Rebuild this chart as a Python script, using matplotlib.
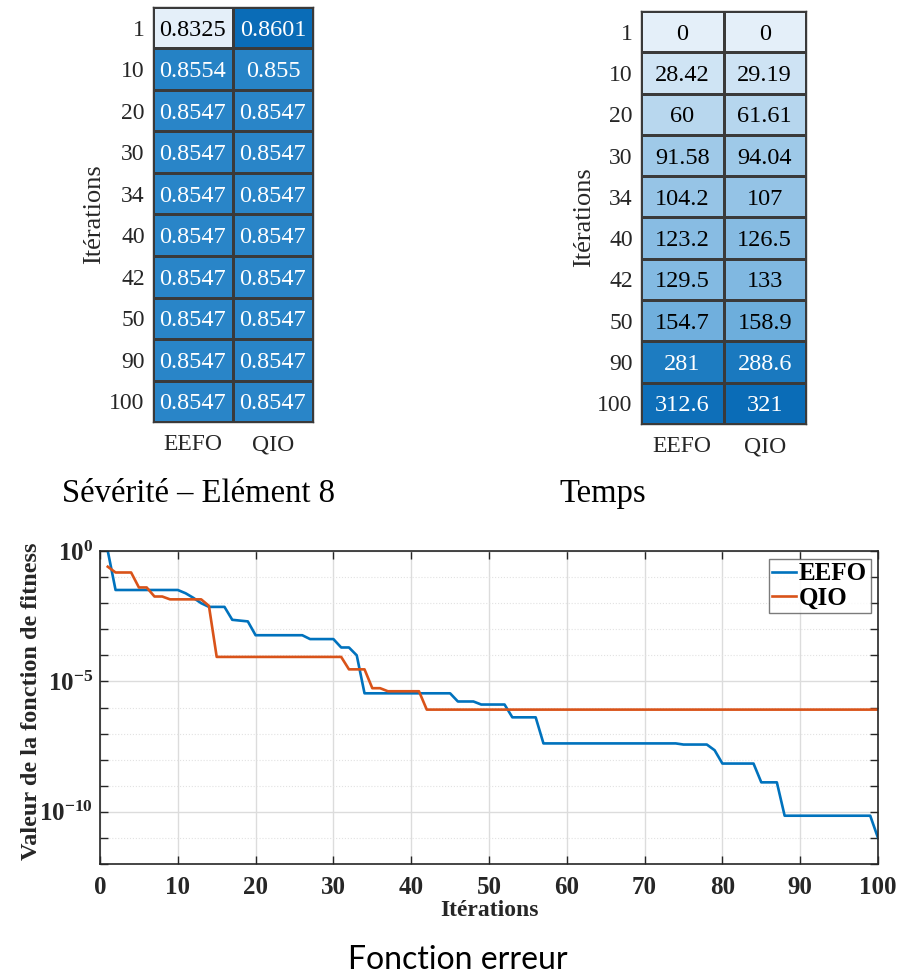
import numpy as np
import matplotlib
matplotlib.use("Agg")
import matplotlib.pyplot as plt
from matplotlib.colors import LinearSegmentedColormap
from matplotlib.ticker import NullFormatter, FixedLocator, FuncFormatter

# ---- Heatmap data -------------------------------------------------------
iterations = ["1", "10", "20", "30", "34", "40", "42", "50", "90", "100"]
algorithms = ["EEFO", "QIO"]

severity_eefo = [0.8325, 0.8554, 0.8547, 0.8547, 0.8547, 0.8547, 0.8547, 0.8547, 0.8547, 0.8547]
severity_qio = [0.8601, 0.855, 0.8547, 0.8547, 0.8547, 0.8547, 0.8547, 0.8547, 0.8547, 0.8547]

time_eefo = [0, 28.42, 60, 91.58, 104.2, 123.2, 129.5, 154.7, 281, 312.6]
time_qio = [0, 29.19, 61.61, 94.04, 107, 126.5, 133, 158.9, 288.6, 321]

# ---- Convergence curves (vertices of the best-so-far fitness) -------------
eefo_iter = [1, 2, 10, 11, 12, 13, 14, 16, 17, 19, 20, 26, 27, 30, 31, 32, 33, 34,
             45, 46, 48, 49, 52, 53, 56, 57, 74, 75, 78, 79, 80, 84, 85, 87, 88, 99, 100]
eefo_fit = [1.0, 3.2e-2, 3.2e-2, 2.4e-2, 1.6e-2, 1.0e-2, 7.2e-3, 7.2e-3, 2.3e-3, 2.0e-3,
            5.9e-4, 5.9e-4, 4.2e-4, 4.2e-4, 2.0e-4, 2.0e-4, 1.0e-4, 3.5e-6,
            3.5e-6, 1.7e-6, 1.7e-6, 1.3e-6, 1.3e-6, 4.2e-7, 4.2e-7, 4.2e-8, 4.2e-8,
            3.8e-8, 3.8e-8, 2.3e-8, 7.1e-9, 7.1e-9, 1.35e-9, 1.35e-9, 7.1e-11, 7.1e-11, 1.0e-11]

qio_iter = [1, 2, 4, 5, 6, 7, 8, 9, 13, 14, 15, 31, 32, 34, 35, 36, 37, 41, 42, 100]
qio_fit = [0.25, 0.15, 0.15, 4.0e-2, 4.0e-2, 1.8e-2, 1.8e-2, 1.4e-2, 1.4e-2, 7.9e-3,
           8.7e-5, 8.7e-5, 2.9e-5, 2.9e-5, 5.5e-6, 5.5e-6, 4.2e-6, 4.2e-6, 8.3e-7, 8.3e-7]

plt.rcParams["mathtext.fontset"] = "custom"
plt.rcParams["mathtext.rm"] = "Liberation Serif"
plt.rcParams["mathtext.bf"] = "Liberation Serif:bold"

W, H = 917, 977
fig = plt.figure(figsize=(W / 100, H / 100), dpi=100)
fig.patch.set_facecolor("white")

serif = ["Liberation Serif", "DejaVu Serif"]
blues = LinearSegmentedColormap.from_list(
    "hm_blues",
    [(0.0, "#e4eff9"), (0.5, "#6cadDC"), (0.8, "#2a86c8"), (1.0, "#0a6cb7")])


def px_axes(x0, y0, x1, y1):
    return fig.add_axes([x0 / W, 1 - y1 / H, (x1 - x0) / W, (y1 - y0) / H])


def heatmap(ax, col_a, col_b, label_x):
    data = np.column_stack([col_a, col_b])
    vmin, vmax = data.min(), data.max()
    ax.pcolormesh(data, cmap=blues, vmin=vmin, vmax=vmax,
                  edgecolors="#3a3a3a", linewidth=1.0)
    ax.set_xlim(0, 2)
    ax.set_ylim(len(iterations), 0)
    for r in range(data.shape[0]):
        for c in range(data.shape[1]):
            v = data[r, c]
            rgba = blues((v - vmin) / (vmax - vmin))
            lum = 0.299 * rgba[0] + 0.587 * rgba[1] + 0.114 * rgba[2]
            ax.text(c + 0.5, r + 0.5, f"{v:.4g}", ha="center", va="center_baseline",
                    fontsize=17.5, family=serif,
                    color="white" if lum < 0.55 else "black")
    ax.set_xticks([0.5, 1.5])
    ax.set_xticklabels(algorithms, fontsize=17, family=serif, color="#262626")
    ax.set_yticks(np.arange(len(iterations)) + 0.5)
    ax.set_yticklabels(iterations, fontsize=17, family=serif, color="#262626")
    ax.tick_params(length=0, pad=6)
    ax.tick_params(axis="x", pad=9)
    for s in ax.spines.values():
        s.set_color("#3a3a3a")
        s.set_linewidth(1.0)
    ax.set_ylabel("Itérations", fontsize=19, family=serif, color="#262626")
    ax.yaxis.set_label_coords(label_x, 0.5)


ax1 = px_axes(153, 7, 313, 422)
heatmap(ax1, severity_eefo, severity_qio, -0.30)
ax2 = px_axes(641, 11, 806, 424)
heatmap(ax2, time_eefo, time_qio, -0.28)

fig.text(199 / W, 1 - 494 / H, "Sévérité – Elément 8", ha="center", va="center",
         fontsize=23.5, family=serif)
fig.text(603 / W, 1 - 494 / H, "Temps", ha="center", va="center",
         fontsize=23.5, family=serif)

# ---- Convergence plot ----------------------------------------------------
ax3 = px_axes(100, 551, 878, 864)
ax3.semilogy(eefo_iter, eefo_fit, color="#0072BD", lw=1.9, label="EEFO")
ax3.semilogy(qio_iter, qio_fit, color="#D95319", lw=1.9, label="QIO")
ax3.set_xlim(0, 100)
ax3.set_ylim(1e-12, 1e0)
ax3.set_xticks(np.arange(0, 101, 10))
ax3.yaxis.set_major_locator(FixedLocator([1e-10, 1e-5, 1e0]))
ax3.yaxis.set_major_formatter(FuncFormatter(
    lambda v, pos: r"$\mathbf{10^{%d}}$" % int(round(np.log10(v)))))
ax3.yaxis.set_minor_locator(FixedLocator([10.0 ** k for k in range(-12, 1)
                                          if k not in (-10, -5, 0)]))
ax3.yaxis.set_minor_formatter(NullFormatter())
ax3.grid(True, which="major", color="#dcdcdc", lw=1.0)
ax3.grid(True, which="minor", axis="y", color="#e2e2e2", lw=0.8, ls=":")
ax3.set_axisbelow(True)
ax3.tick_params(which="both", direction="in", top=True, right=True,
                length=6, width=1.0, colors="#262626")
for lab in ax3.get_xticklabels() + ax3.get_yticklabels():
    lab.set_fontfamily(serif)
    lab.set_fontweight("bold")
    lab.set_fontsize(18)
ax3.tick_params(axis="x", pad=9)
ax3.tick_params(axis="y", pad=5)
for s in ax3.spines.values():
    s.set_color("#262626")
    s.set_linewidth(1.2)
ax3.set_xlabel("Itérations", fontsize=17, fontweight="bold", family=serif,
               color="#262626", labelpad=0)
ax3.set_ylabel("Valeur de la fonction de fitness", fontsize=17.5, fontweight="bold",
               family=serif, color="#262626")
ax3.yaxis.set_label_coords(-0.075, 0.52)
leg = ax3.legend(loc="upper right", prop={"family": serif, "weight": "bold", "size": 18},
                 frameon=True, fancybox=False, handlelength=0.95, handletextpad=0.1,
                 borderpad=0.15, labelspacing=0.05, borderaxespad=0.3)
leg.get_frame().set_edgecolor("#5a5a5a")
leg.get_frame().set_linewidth(1.0)

fig.text(458 / W, 1 - 960 / H, "Fonction erreur", ha="center", va="center",
         fontsize=23, family=["Lato", "DejaVu Sans"])

fig.savefig("out.png", dpi=100, facecolor="white")
